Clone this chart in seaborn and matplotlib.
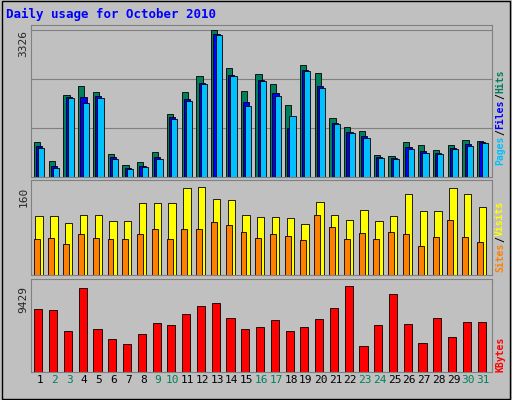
import numpy as np
import matplotlib
matplotlib.use('Agg')
import matplotlib.pyplot as plt
import seaborn as sns

sns.set_style("white")
plt.rcParams['font.family'] = ['DejaVu Sans Mono', 'DejaVu Sans']

days = list(range(1, 32))
weekend = [2, 3, 9, 10, 16, 17, 23, 24, 30, 31]
hits = [797, 364, 1868, 2050, 1914, 524, 273, 342, 570, 1435, 1914, 2278, 3326, 2460, 1959, 2324,
        2096, 1640, 2528, 2346, 1344, 1139, 1048, 501, 478, 797, 729, 615, 729, 843, 820]
files = [700, 260, 1820, 1822, 1830, 450, 210, 260, 460, 1350, 1760, 2130, 3230, 2320, 1700, 2200,
         1900, 1100, 2420, 2050, 1230, 1030, 920, 450, 430, 670, 580, 550, 660, 740, 790]
pages = [660, 205, 1800, 1686, 1800, 410, 182, 228, 410, 1321, 1731, 2096, 3212, 2278, 1617, 2164,
         1845, 1390, 2392, 2005, 1207, 1002, 888, 433, 410, 638, 547, 524, 638, 706, 775]
visits = [107, 107, 95, 109, 109, 98, 98, 131, 131, 131, 158, 160, 138, 136, 109, 105,
          105, 104, 93, 133, 109, 100, 118, 98, 107, 147, 116, 116, 158, 147, 124]
sites = [65, 67, 56, 75, 67, 65, 65, 75, 84, 65, 84, 84, 96, 91, 78, 67,
         75, 71, 64, 109, 87, 65, 76, 65, 78, 75, 53, 69, 100, 69, 60]
kbytes = [6878, 6767, 4437, 9207, 4659, 3661, 3106, 4215, 5325, 5103, 6323, 7210, 7543, 5879, 4659, 4881,
          5657, 4437, 4881, 5768, 6988, 9429, 2884, 5103, 8541, 5214, 3217, 5879, 3883, 5436, 5436]

W, H = 512, 400
fig = plt.figure(figsize=(W / 100, H / 100), dpi=100, facecolor='#c0c0c0')

def panel(top, bottom):
    return fig.add_axes([31 / W, 1 - bottom / H, 461 / W, (bottom - top) / H], facecolor='#c0c0c0')

x = np.array(days, dtype=float)
edge = dict(edgecolor='black', linewidth=0.6)

ax1 = panel(25, 177)
ax1.bar(x - 0.2, hits, width=0.42, color='#00805c', **edge)
ax1.bar(x - 0.05, files, width=0.42, color='#0000ff', **edge)
ax1.bar(x + 0.1, pages, width=0.42, color='#00c0ff', **edge)
ax1.set_ylim(0, 3326 * 1.035)
ax1.set_yticks([3326])
for v in [3326 * f for f in (1 / 3, 2 / 3, 1.0)]:
    ax1.axhline(v, color='#808080', lw=0.8, zorder=0)

ax2 = panel(180, 275)
ax2.bar(x - 0.05, visits, width=0.5, color='#ffff00', **edge)
ax2.bar(x - 0.22, sites, width=0.4, color='#ff8000', **edge)
ax2.set_ylim(0, 160 * 1.08)
ax2.set_yticks([160])

ax3 = panel(279, 372)
ax3.bar(x - 0.1, kbytes, width=0.55, color='#ff0000', **edge)
ax3.set_ylim(0, 9429 * 1.08)
ax3.set_yticks([9429])
ax3.set_xticks(days)
ax3.set_xticklabels([str(d) for d in days], fontsize=8)
for t, d in zip(ax3.get_xticklabels(), days):
    t.set_color('#00805c' if d in weekend else 'black')

for ax in (ax1, ax2, ax3):
    ax.set_xlim(0.4, 31.6)
    for lab in ax.get_yticklabels():
        lab.set_rotation(90)
        lab.set_fontsize(8)
        lab.set_va('top')
    ax.tick_params(length=0, pad=2)
    if ax is not ax3:
        ax.set_xticks([])
    for s in ax.spines.values():
        s.set_color('#808080')
    ax.set_axisbelow(True)

fig.text(6 / W, 1 - 14 / H, 'Daily usage for October 2010', color='#0000ff',
         fontsize=9, fontweight='bold', va='center')

def side_label(parts, y_bottom):
    y = y_bottom
    for txt, col in parts:
        fig.text(500 / W, 1 - y / H, txt, color=col, rotation=90, fontsize=7,
                 fontweight='bold', ha='center', va='bottom')
        y -= len(txt) * 6.0

side_label([('Pages', '#00c0ff'), ('/', '#000000'), ('Files', '#0000ff'),
            ('/', '#000000'), ('Hits', '#00805c')], 165)
side_label([('Sites', '#ff8000'), ('/', '#000000'), ('Visits', '#ffff00')], 272)
side_label([('KBytes', '#ff0000')], 372)

fig.patches.append(plt.Rectangle((0.003, 0.003), 0.994, 0.994, transform=fig.transFigure,
                                 fill=False, edgecolor='black', lw=1))
fig.savefig('out.png', dpi=100, facecolor=fig.get_facecolor())
